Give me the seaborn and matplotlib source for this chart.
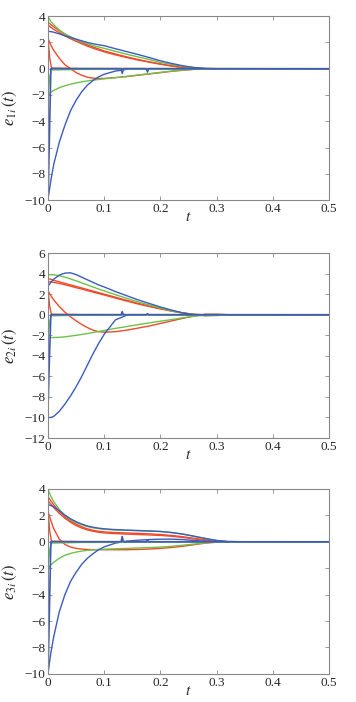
import matplotlib
matplotlib.use("Agg")
import matplotlib.pyplot as plt
import seaborn as sns

# time grid shared by the slow error curves
t = [0, 0.005, 0.01, 0.02, 0.03, 0.04, 0.05, 0.06, 0.07, 0.08, 0.09, 0.1,
     0.12, 0.14, 0.16, 0.18, 0.2, 0.22, 0.24, 0.26, 0.28, 0.3, 0.32, 0.35,
     0.4, 0.45, 0.5]

# panel 1: e_1i(t)
p1_blue_hi = [2.85, 2.82, 2.78, 2.65, 2.5, 2.38, 2.25, 2.12, 2.0, 1.9, 1.82, 1.75, 1.52, 1.3, 1.08,
              0.85, 0.6, 0.4, 0.22, 0.09, 0.02, 0, 0, 0, 0, 0, 0]
p1_green_hi = [3.95, 3.6, 3.35, 2.95, 2.65, 2.42, 2.22, 2.05, 1.9, 1.76, 1.65, 1.55, 1.32, 1.1, 0.9,
               0.7, 0.48, 0.32, 0.18, 0.08, 0.01, 0, 0, 0, 0, 0, 0]
p1_red_a = [3.55, 3.35, 3.2, 2.9, 2.62, 2.4, 2.2, 2.0, 1.82, 1.65, 1.5, 1.35, 1.12, 0.9, 0.7,
            0.52, 0.36, 0.22, 0.1, 0.03, 0, 0, 0, 0, 0, 0, 0]
p1_red_b = [3.3, 3.15, 3.0, 2.75, 2.5, 2.28, 2.08, 1.9, 1.72, 1.56, 1.42, 1.28, 1.05, 0.85, 0.66,
            0.5, 0.34, 0.2, 0.09, 0.02, 0, 0, 0, 0, 0, 0, 0]
p1_red_lo = [2.3, 1.8, 1.4, 0.8, 0.3, 0.0, -0.3, -0.5, -0.65, -0.72, -0.75, -0.74, -0.68, -0.6, -0.5,
             -0.4, -0.3, -0.2, -0.12, -0.05, -0.01, 0, 0, 0, 0, 0, 0]
p1_green_lo = [-2.0, -1.8, -1.65, -1.45, -1.3, -1.18, -1.08, -1.0, -0.93, -0.87, -0.82, -0.77, -0.68, -0.58, -0.48,
               -0.38, -0.28, -0.18, -0.1, -0.04, -0.01, 0, 0, 0, 0, 0, 0]
p1_blue_lo = [-9.9, -8.5, -7.3, -5.6, -4.3, -3.2, -2.4, -1.75, -1.25, -0.9, -0.62, -0.42, -0.18, -0.05, 0,
              0, 0, 0, 0, 0, 0, 0, 0, 0, 0, 0, 0]

# panel 2: e_2i(t)
p2_blue_hi = [2.8, 3.15, 3.45, 3.85, 4.05, 4.08, 3.9, 3.65, 3.4, 3.15, 2.9, 2.7, 2.25, 1.85, 1.45,
              1.1, 0.75, 0.45, 0.18, 0.0, -0.08, -0.05, 0, 0, 0, 0, 0]
p2_green_hi = [3.9, 3.9, 3.88, 3.8, 3.65, 3.48, 3.3, 3.1, 2.9, 2.7, 2.5, 2.32, 1.95, 1.6, 1.25,
               0.95, 0.65, 0.38, 0.15, 0.0, -0.1, -0.08, 0, 0, 0, 0, 0]
p2_red_a = [3.5, 3.45, 3.35, 3.2, 3.05, 2.9, 2.75, 2.6, 2.45, 2.3, 2.15, 2.0, 1.7, 1.4, 1.1,
            0.85, 0.6, 0.38, 0.18, 0.04, -0.02, 0, 0, 0, 0, 0, 0]
p2_red_b = [3.2, 3.2, 3.15, 3.05, 2.92, 2.78, 2.63, 2.5, 2.35, 2.2, 2.06, 1.92, 1.62, 1.33, 1.05,
            0.8, 0.56, 0.35, 0.16, 0.03, -0.02, 0, 0, 0, 0, 0, 0]
p2_red_lo = [2.3, 1.85, 1.45, 0.8, 0.25, -0.2, -0.6, -0.95, -1.25, -1.5, -1.65, -1.7, -1.65, -1.5, -1.3,
             -1.1, -0.85, -0.6, -0.35, -0.12, 0.05, 0.05, 0, 0, 0, 0, 0]
p2_green_lo = [-2.2, -2.22, -2.22, -2.2, -2.15, -2.08, -2.0, -1.92, -1.83, -1.73, -1.63, -1.53, -1.33, -1.15, -0.97,
               -0.8, -0.63, -0.47, -0.3, -0.15, -0.03, 0.02, 0, 0, 0, 0, 0]
p2_blue_lo = [-10, -10, -9.9, -9.4, -8.7, -7.9, -7.0, -6.0, -4.9, -3.8, -2.8, -1.9, -0.5, -0.05, 0,
              0, 0, 0, 0, 0, 0, 0, 0, 0, 0, 0, 0]

# panel 3: e_3i(t)
p3_green_hi = [3.95, 3.45, 3.05, 2.45, 2.0, 1.68, 1.45, 1.28, 1.15, 1.06, 1.0, 0.95, 0.9, 0.87, 0.85,
               0.82, 0.78, 0.7, 0.58, 0.42, 0.25, 0.1, 0.02, 0, 0, 0, 0]
p3_blue_hi = [2.8, 2.75, 2.65, 2.35, 2.02, 1.74, 1.52, 1.34, 1.2, 1.1, 1.03, 0.98, 0.92, 0.88, 0.85,
              0.82, 0.78, 0.7, 0.58, 0.42, 0.25, 0.1, 0.02, 0, 0, 0, 0]
p3_red_a = [3.4, 3.1, 2.8, 2.3, 1.9, 1.58, 1.33, 1.13, 0.98, 0.87, 0.8, 0.75, 0.7, 0.67, 0.64,
            0.6, 0.55, 0.48, 0.38, 0.26, 0.14, 0.05, 0, 0, 0, 0, 0]
p3_red_b = [3.1, 2.85, 2.6, 2.15, 1.78, 1.48, 1.23, 1.04, 0.9, 0.8, 0.72, 0.67, 0.62, 0.58, 0.55,
            0.52, 0.48, 0.42, 0.33, 0.22, 0.12, 0.04, 0, 0, 0, 0, 0]
p3_red_lo = [2.3, 1.6, 1.0, 0.2, -0.2, -0.4, -0.5, -0.55, -0.58, -0.6, -0.6, -0.6, -0.6, -0.6, -0.58,
             -0.55, -0.5, -0.43, -0.34, -0.22, -0.1, -0.03, 0, 0, 0, 0, 0]
p3_green_lo = [-2.0, -1.75, -1.55, -1.25, -1.02, -0.88, -0.78, -0.7, -0.65, -0.61, -0.58, -0.56, -0.53, -0.5, -0.47,
               -0.44, -0.4, -0.34, -0.26, -0.17, -0.08, -0.02, 0, 0, 0, 0, 0]
p3_blue_lo = [-9.9, -8.4, -7.2, -5.3, -4.0, -3.0, -2.3, -1.7, -1.25, -0.9, -0.6, -0.38, -0.1, 0.05, 0.12,
              0.17, 0.2, 0.2, 0.17, 0.1, 0.04, 0.0, 0, 0, 0, 0, 0]

# fast-converging errors (jump to zero almost at once, small spikes later)
t_fast = [0, 0.002, 0.005, 0.13, 0.132, 0.134, 0.175, 0.177, 0.179, 0.5]
p1_blue_fast = [-10, -6, 0, 0, -0.35, 0, 0, -0.25, 0, 0]
p2_blue_fast = [-9, -5, 0, 0, 0.3, 0, 0, 0.1, 0, 0]
p3_blue_fast = [-10, -6, 0, 0, 0.4, 0, 0, 0.15, 0, 0]
t_fast2 = [0, 0.003, 0.006, 0.06, 0.5]
p1_green_fast = [-2, -0.6, -0.1, -0.05, 0]
p2_green_fast = [-2.2, -0.6, -0.1, -0.05, 0]
p3_green_fast = [-2, -0.6, -0.1, -0.05, 0]
red_fast = [2.3, 0.8, 0.05, 0.02, 0]

ylims = [(-10, 4), (-12, 6), (-10, 4)]
yticks = [list(range(-10, 5, 2)), list(range(-12, 7, 2)), list(range(-10, 5, 2))]
ylabels = [r"$e_{1i}\,(t)$", r"$e_{2i}\,(t)$", r"$e_{3i}\,(t)$"]

BLUE = "#3b5cbf"
RED = "#ef4a2b"
GREEN = "#6cc24a"

sns.set_style("ticks")
plt.rcParams["font.family"] = ["Liberation Serif", "DejaVu Serif"]
plt.rcParams["mathtext.fontset"] = "stix"

fig = plt.figure(figsize=(3.56, 7.02), dpi=100)
boxes = [[0.135, 0.715, 0.789, 0.262],
         [0.135, 0.376, 0.789, 0.2635],
         [0.135, 0.040, 0.789, 0.2635]]

panels = [
    [(p1_red_a, RED), (p1_red_b, RED), (p1_red_lo, RED), (p1_green_hi, GREEN), (p1_green_lo, GREEN),
     (p1_blue_hi, BLUE), (p1_blue_lo, BLUE)],
    [(p2_red_a, RED), (p2_red_b, RED), (p2_red_lo, RED), (p2_green_hi, GREEN), (p2_green_lo, GREEN),
     (p2_blue_hi, BLUE), (p2_blue_lo, BLUE)],
    [(p3_red_a, RED), (p3_red_b, RED), (p3_red_lo, RED), (p3_green_hi, GREEN), (p3_green_lo, GREEN),
     (p3_blue_hi, BLUE), (p3_blue_lo, BLUE)],
]
fast_green = [p1_green_fast, p2_green_fast, p3_green_fast]
fast_blue = [p1_blue_fast, p2_blue_fast, p3_blue_fast]

for i in range(3):
    ax = fig.add_axes(boxes[i])
    for vals, col in panels[i]:
        sns.lineplot(x=t, y=vals, color=col, linewidth=1.0, ax=ax, sort=False)
    sns.lineplot(x=t_fast2, y=red_fast, color=RED, linewidth=1.0, ax=ax, sort=False)
    sns.lineplot(x=t_fast2, y=fast_green[i], color=GREEN, linewidth=1.0, ax=ax, sort=False)
    sns.lineplot(x=t_fast, y=fast_blue[i], color=BLUE, linewidth=1.2, ax=ax, sort=False)

    ax.set_xlim(0, 0.5)
    ax.set_ylim(*ylims[i])
    ax.set_xticks([0, 0.1, 0.2, 0.3, 0.4, 0.5])
    ax.set_xticklabels(["0", "0.1", "0.2", "0.3", "0.4", "0.5"])
    ax.set_yticks(yticks[i])
    ax.set_yticklabels([str(v).replace("-", "\u2212") for v in yticks[i]])
    ax.tick_params(direction="in", length=3, width=0.6, color="#888888",
                   labelsize=9.5, top=True, right=True, pad=2)
    for s in ax.spines.values():
        s.set_color("#888888")
        s.set_linewidth(0.8)
    ax.set_xlabel(r"$t$", fontsize=11)
    ax.xaxis.set_label_coords(0.5, -0.06)
    ax.set_ylabel(ylabels[i], fontsize=12)
    ax.yaxis.set_label_coords(-0.105, 0.5)

fig.savefig("out.png", dpi=100)
